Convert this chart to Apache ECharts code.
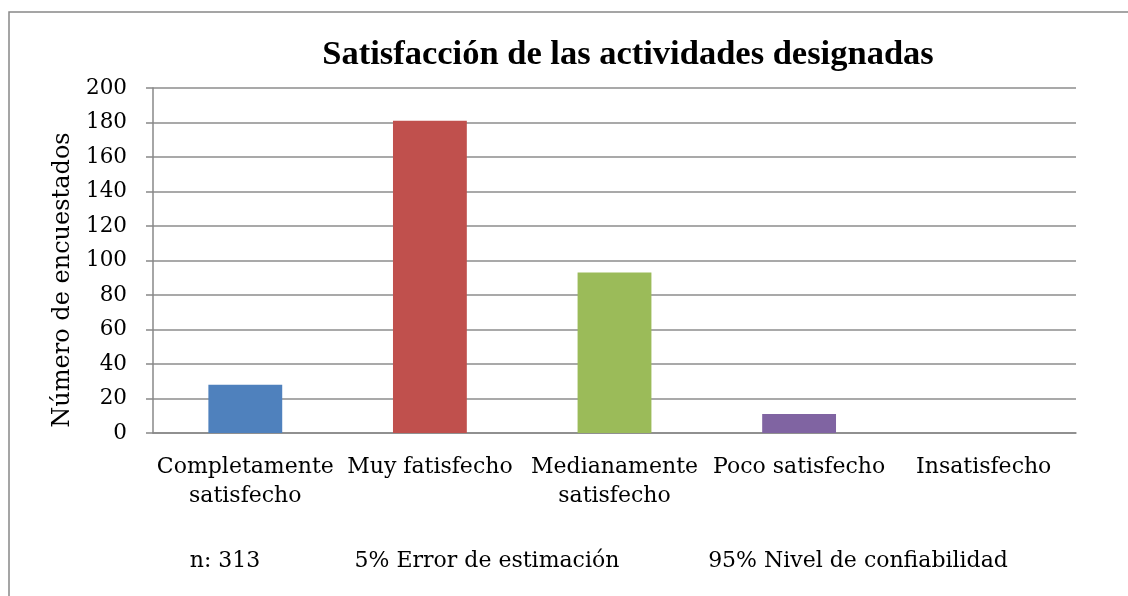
<!DOCTYPE html>
<html>
<head>
<meta charset="utf-8">
<script src="https://cdn.jsdelivr.net/npm/echarts@6/dist/echarts.min.js"></script>
<style>
html,body{margin:0;padding:0;background:#fff;}
#chart{width:1128px;height:596px;}
</style>
</head>
<body>
<div id="chart"></div>
<script>
const categories = ["Completamente\nsatisfecho", "Muy fatisfecho", "Medianamente\nsatisfecho", "Poco satisfecho", "Insatisfecho"];
const values = [28, 181, 93, 11, 0];
const barColors = ["#4F81BD", "#C0504D", "#9BBB59", "#8064A2", "#F79646"];
const yTicks = { min: 0, max: 200, interval: 20 };
const titleText = "Satisfacción de las actividades designadas";
const yAxisTitle = "Número de encuestados";
const footerTexts = ["n: 313", "5% Error de estimación", "95% Nivel de confiabilidad"];

const FONT = "'DejaVu Serif', 'Liberation Serif', serif";
const TFONT = "'Liberation Serif', serif";
const chart = echarts.init(document.getElementById('chart'));
const footerX = [225, 487, 858];
chart.setOption({
  animation: false,
  backgroundColor: '#fff',
  title: {
    text: titleText,
    left: 623, top: 33, textAlign: 'center',
    textStyle: { fontFamily: TFONT, fontWeight: 'bold', fontSize: 34.5, color: '#000' }
  },
  grid: { left: 153, top: 88, right: 52, bottom: 163, containLabel: false },
  xAxis: {
    type: 'category',
    data: categories,
    axisLine: { lineStyle: { color: '#888', width: 1.5 } },
    axisTick: { show: false },
    axisLabel: { fontFamily: FONT, fontSize: 22, color: '#000', margin: 20, lineHeight: 29, interval: 0 }
  },
  yAxis: {
    type: 'value',
    min: yTicks.min, max: yTicks.max, interval: yTicks.interval,
    axisLine: { show: true, lineStyle: { color: '#888', width: 1.5 } },
    axisTick: { show: true, length: 7, lineStyle: { color: '#888', width: 1.5 } },
    splitLine: { lineStyle: { color: '#8c8c8c', width: 1.5 } },
    axisLabel: { fontFamily: FONT, fontSize: 21.5, color: '#000', margin: 26 }
  },
  series: [{
    type: 'bar',
    data: values.map((v, i) => ({ value: v, itemStyle: { color: barColors[i] } })),
    barWidth: '40%'
  }],
  graphic: [
    { type: 'rect', shape: { x: 9, y: 12, width: 1200, height: 700 }, style: { fill: 'none', stroke: '#888', lineWidth: 1.5 }, z: -1 },
    { type: 'text', x: 63, y: 280, rotation: Math.PI / 2,
      style: { text: yAxisTitle, fontFamily: FONT, fontSize: 24, fill: '#000', textAlign: 'center', textVerticalAlign: 'middle' } }
  ].concat(footerTexts.map((t, i) => ({
    type: 'text', x: footerX[i], y: 561,
    style: { text: t, fontFamily: FONT, fontSize: 22, fill: '#000', textAlign: 'center', textVerticalAlign: 'middle' }
  })))
});
</script>
</body>
</html>
